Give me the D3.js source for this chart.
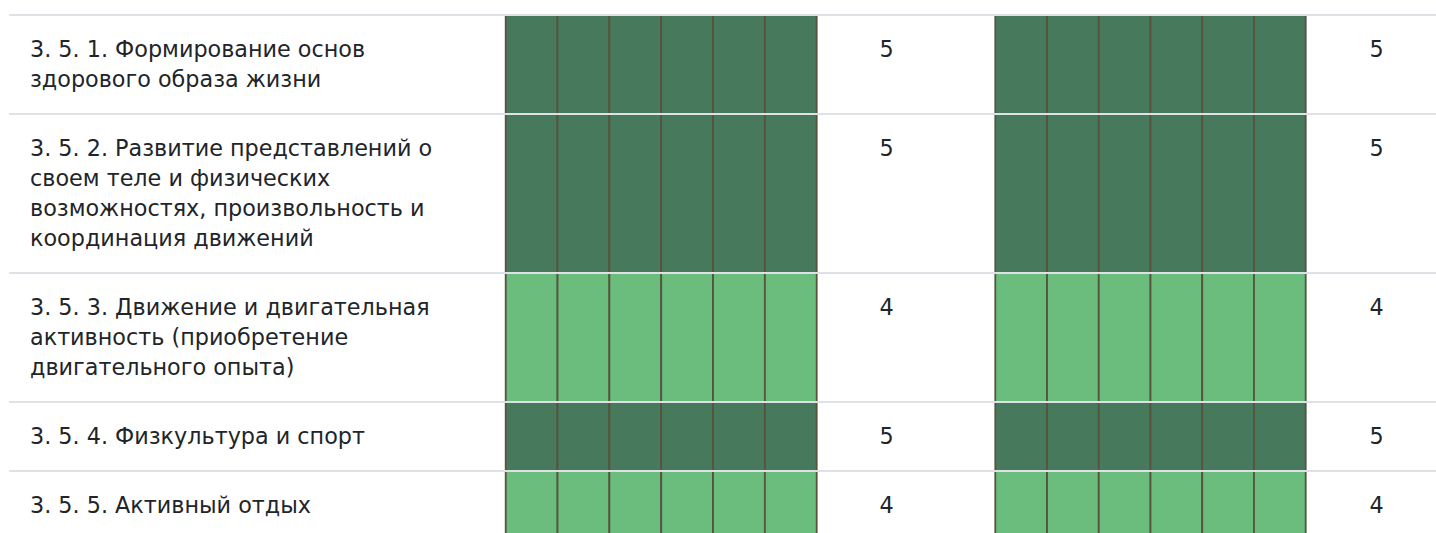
<!DOCTYPE html>
<html>
<head>
<meta charset="utf-8">
<script src="https://cdn.jsdelivr.net/npm/d3@7"></script>
<style>
  html, body { margin: 0; padding: 0; background: #fff; overflow: hidden; }
  svg { display: block; }
</style>
</head>
<body>
<svg id="chart" width="1436" height="533"></svg>
<script>
// ---- data ----
const labels = [
  ["3. 5. 1. Формирование основ", "здорового образа жизни"],
  ["3. 5. 2. Развитие представлений о", "своем теле и физических", "возможностях, произвольность и", "координация движений"],
  ["3. 5. 3. Движение и двигательная", "активность (приобретение", "двигательного опыта)"],
  ["3. 5. 4. Физкультура и спорт"],
  ["3. 5. 5. Активный отдых"]
];
const cellIndex = [1, 2, 3, 4, 5, 6];
const values1 = [5, 5, 4, 5, 4];
const values2 = [5, 5, 4, 5, 4];
const levels = [4, 5];

// ---- layout ----
const W = 1436, H = 533;
const lineH = 30, pad = 19.5, top0 = 15;
const svg = d3.select("#chart");

const rowH = labels.map(l => l.length * lineH + 2 * pad);
const rowY = [];
rowH.reduce((acc, h, i) => { rowY[i] = acc; return acc + h; }, top0);

const color = d3.scaleOrdinal().domain(levels).range(["#6abd7d", "#477a5c"]);
const x1 = d3.scaleBand().domain(cellIndex).range([505.7, 816.7]);
const x2 = d3.scaleBand().domain(cellIndex).range([995.3, 1305.7]);
const valX1 = 886.7, valX2 = 1376.7;
const font = "DejaVu Sans, sans-serif";
const fs = 22.3;

function drawHeat(xs, vals, cls) {
  const g = svg.append("g").attr("class", cls);
  labels.forEach((_, i) => {
    g.selectAll(null)
      .data(cellIndex.map(c => ({ c, v: vals[i] })))
      .join("rect")
      .attr("x", d => xs(d.c))
      .attr("y", rowY[i])
      .attr("width", xs.bandwidth())
      .attr("height", rowH[i])
      .attr("fill", d => color(d.v))
      .attr("stroke", "#57533f")
      .attr("stroke-width", 1.8);
  });
}
drawHeat(x1, values1, "heat1");
drawHeat(x2, values2, "heat2");

// row separators
svg.append("g").selectAll("line")
  .data(rowY)
  .join("line")
  .attr("x1", 9).attr("x2", W)
  .attr("y1", d => d).attr("y2", d => d)
  .attr("stroke", "#dee2e6")
  .attr("stroke-width", 2);

// labels
labels.forEach((lines, i) => {
  const t = svg.append("text")
    .attr("font-family", font)
    .attr("font-size", fs)
    .attr("fill", "#212529");
  lines.forEach((ln, j) => {
    t.append("tspan")
      .attr("x", 30)
      .attr("y", rowY[i] + pad + lineH * j + lineH / 2)
      .attr("dy", "0.35em")
      .text(ln);
  });
});

// values
function drawVals(vals, xpos) {
  svg.append("g").selectAll("text")
    .data(vals)
    .join("text")
    .attr("x", xpos)
    .attr("y", (d, i) => rowY[i] + pad + lineH / 2)
    .attr("dy", "0.35em")
    .attr("text-anchor", "middle")
    .attr("font-family", font)
    .attr("font-size", fs)
    .attr("fill", "#212529")
    .text(d => d);
}
drawVals(values1, valX1);
drawVals(values2, valX2);
</script>
</body>
</html>
